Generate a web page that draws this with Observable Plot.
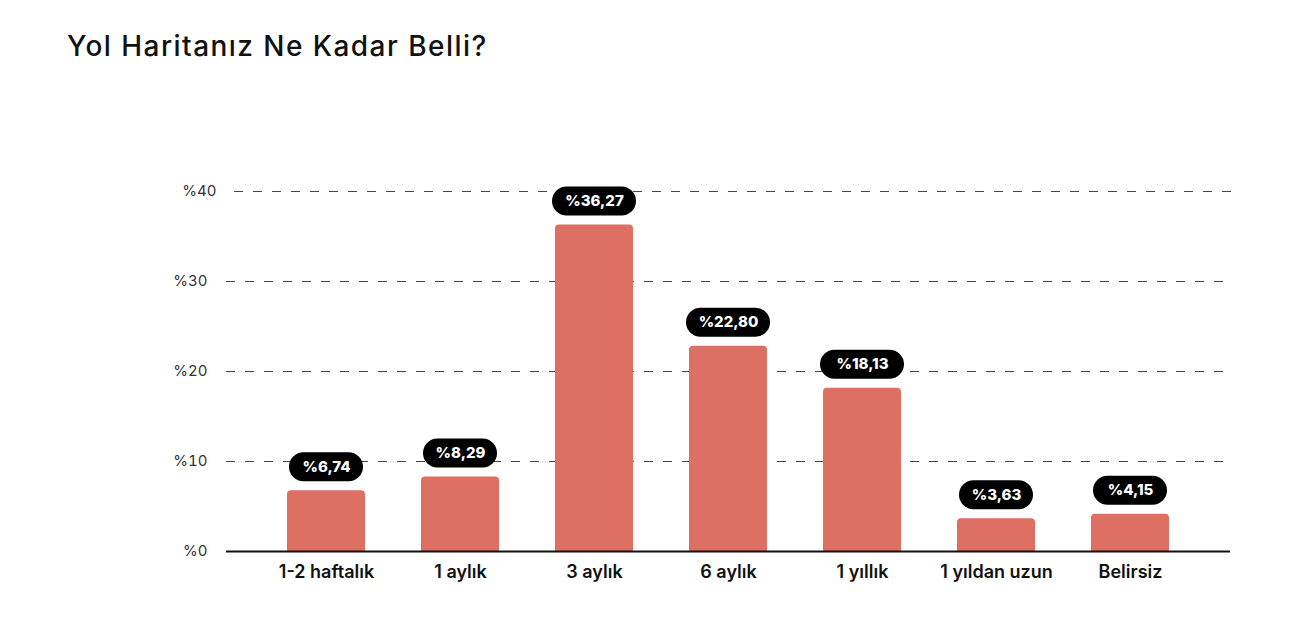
<!DOCTYPE html>
<html>
<head>
<meta charset="utf-8">
<script src="https://cdn.jsdelivr.net/npm/d3@7"></script>
<script src="https://cdn.jsdelivr.net/npm/@observablehq/plot@0.6"></script>
<style>
  html, body { margin: 0; padding: 0; background: #fff; }
  body { width: 1290px; height: 626px; overflow: hidden; font-family: Inter, "Open Sans", sans-serif; }
  #title { position: absolute; left: 67px; top: 32px; font-size: 28px; line-height: 1; font-weight: 500; color: #111; letter-spacing: 1.45px; white-space: nowrap; }
  #chart { position: absolute; left: 0; top: 80px; }
</style>
</head>
<body>
<div id="title">Yol Haritanız Ne Kadar Belli?</div>
<div id="chart"></div>
<script>
const categories = ["1-2 haftalık", "1 aylık", "3 aylık", "6 aylık", "1 yıllık", "1 yıldan uzun", "Belirsiz"];
const values = [6.74, 8.29, 36.27, 22.80, 18.13, 3.63, 4.15];
const valueLabels = ["%6,74", "%8,29", "%36,27", "%22,80", "%18,13", "%3,63", "%4,15"];
const yTicks = [0, 10, 20, 30, 40];
const yTickLabels = ["%0", "%10", "%20", "%30", "%40"];

const data = categories.map((c, i) => ({ cat: c, value: values[i], label: valueLabels[i] }));
const shortLabels = data.filter(d => d.label.length <= 5);
const longLabels = data.filter(d => d.label.length > 5);
const barColor = "#de6f63";
const fmtY = d => yTickLabels[yTicks.indexOf(d)];
const topTick = yTicks[yTicks.length - 1];
const lowerTicks = yTicks.slice(0, -1);

const chart = Plot.plot({
  width: 1290,
  height: 546,
  marginLeft: 226,
  marginRight: 60,
  marginTop: 111,
  marginBottom: 75,
  style: { fontFamily: "Inter, 'Open Sans', sans-serif", background: "transparent" },
  x: { domain: categories, paddingInner: 0.42, paddingOuter: 0.45, label: null },
  y: { domain: [0, 40], label: null },
  marks: [
    Plot.ruleY(lowerTicks.filter(t => t > 0), { stroke: "#444", strokeWidth: 1, strokeDasharray: "9,10" }),
    Plot.ruleY([topTick], { stroke: "#444", strokeWidth: 1, strokeDasharray: "9,10", dx: 8 }),
    Plot.barY(data, { x: "cat", y: "value", fill: barColor, rx: 4 }),
    Plot.barY(data, { x: "cat", y1: 0, y2: d => Math.min(d.value, 1), fill: barColor }),
    Plot.ruleY([0], { stroke: "#111", strokeWidth: 2 }),
    Plot.tickY(shortLabels, { x: "cat", y: "value", dy: -24, stroke: "#000", strokeWidth: 29, strokeLinecap: "round", insetLeft: 16.5, insetRight: 16.5 }),
    Plot.tickY(longLabels, { x: "cat", y: "value", dy: -24, stroke: "#000", strokeWidth: 29, strokeLinecap: "round", insetLeft: 11.5, insetRight: 11.5 }),
    Plot.text(data, { x: "cat", y: "value", text: "label", dy: -24, fill: "#fff", fontSize: 15, fontWeight: 800, letterSpacing: "0.4px" }),
    Plot.axisY(lowerTicks, { tickSize: 0, tickPadding: 19, tickFormat: fmtY, fontSize: 15, fill: "#333", label: null }),
    Plot.axisY([topTick], { tickSize: 0, tickPadding: 19, tickFormat: fmtY, fontSize: 15, fill: "#333", label: null, dx: 9 }),
    Plot.axisX({ tickSize: 0, tickPadding: 14, fontSize: 18, fontWeight: 600, fill: "#111", label: null, letterSpacing: "1px" })
  ]
});
document.getElementById("chart").appendChild(chart);
</script>
</body>
</html>
